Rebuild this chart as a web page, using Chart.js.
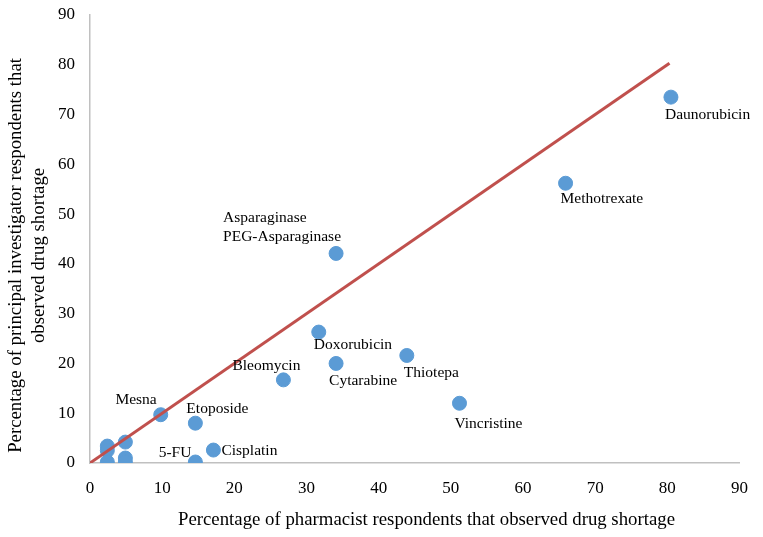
<!DOCTYPE html>
<html>
<head>
<meta charset="utf-8">
<script src="https://cdn.jsdelivr.net/npm/chart.js@4.4.1/dist/chart.umd.min.js"></script>
<style>
  html, body { margin: 0; padding: 0; background: #fff; }
  #wrap { width: 763px; height: 537px; }
</style>
</head>
<body>
<div id="wrap"><canvas id="graficoFalta"></canvas></div>
<script>
// drug names ('' = unlabeled point)
const drugNames = ['Daunorubicin', 'Methotrexate', 'Asparaginase\nPEG-Asparaginase', 'Doxorubicin',
    'Cytarabine', 'Thiotepa', 'Vincristine', 'Bleomycin', 'Mesna', 'Etoposide', 'Cisplatin', '5-FU',
    '', '', '', '', '', '']
// % of pharmacist respondents (x)
const pharmacistPct = [80.5, 65.9, 34.1, 31.7, 34.1, 43.9, 51.2, 26.8, 9.8, 14.6, 17.1, 14.6,
    2.4, 2.4, 2.4, 4.9, 4.9, 4.9]
// % of principal investigator respondents (y)
const investigatorPct = [73.5, 56.2, 42.1, 26.3, 20.0, 21.6, 12.0, 16.7, 9.7, 8.0, 2.6, 0.2,
    3.4, 2.5, 0.2, 4.2, 1.0, 0.2]
// reference line y = x
const lineX = [0, 80.3]
const lineY = [0, 80.3]
const axisTicks = [0, 10, 20, 30, 40, 50, 60, 70, 80, 90]

// where each label sits relative to its dot: [dx, dy, align]
const labelPlace = [[-6, 18, 'left'], [-5, 16, 'left'], [-113, -36, 'left'], [-5, 13, 'left'],
    [-7, 17, 'left'], [-3, 17, 'left'], [-5, 21, 'left'], [-51, -14, 'left'], [-4, -15, 'right'],
    [-9, -14, 'left'], [8, 1, 'left'], [-4, -9, 'right']]

const pontos = pharmacistPct.map((x, i) => ({ x: x, y: investigatorPct[i] }))
const linha = lineX.map((x, i) => ({ x: x, y: lineY[i] }))

const serif = "'Liberation Serif', 'Times New Roman', serif"

const rotulos = {
    id: 'rotulos',
    afterDatasetsDraw(chart) {
        const ctx = chart.ctx
        const meta = chart.getDatasetMeta(1)
        ctx.save()
        ctx.font = '15.5px ' + serif
        ctx.fillStyle = '#000'
        ctx.textBaseline = 'middle'
        drugNames.forEach((nome, i) => {
            if (!nome) return
            const el = meta.data[i]
            const [dx, dy, al] = labelPlace[i]
            ctx.textAlign = al
            nome.split('\n').forEach((linhaTxt, k) => {
                ctx.fillText(linhaTxt, el.x + dx, el.y + dy + k * 19)
            })
        })
        ctx.restore()
    }
}

const eixo = (titulo, titlePad, ajuste) => ({
    type: 'linear',
    min: 0,
    max: 90,
    afterBuildTicks: (s) => { s.ticks = axisTicks.map(v => ({ value: v })) },
    afterFit: ajuste,
    grid: { display: false, drawTicks: false },
    border: { display: true, color: '#c0c0c0', width: 1.5 },
    ticks: { color: '#000', font: { family: serif, size: 17 }, padding: 15 },
    title: { display: true, text: titulo, color: '#000', font: { family: serif, size: 18.8, lineHeight: 1.2 }, padding: titlePad }
})

// trailing/leading spaces nudge the titles off-centre like the original
new Chart(document.getElementById('graficoFalta'), {
    type: 'scatter',
    data: {
        datasets: [{
            type: 'line',
            data: linha,
            borderColor: '#c0504d',
            borderWidth: 3,
            pointRadius: 0,
            fill: false
        }, {
            data: pontos,
            backgroundColor: '#5b9bd5',
            borderColor: '#5b9bd5',
            pointRadius: 7,
            pointHoverRadius: 7
        }]
    },
    options: {
        responsive: true,
        maintainAspectRatio: false,
        animation: false,
        layout: { padding: { top: 0, right: 23, bottom: 0, left: 0 } },
        plugins: { legend: { display: false }, tooltip: { enabled: false } },
        scales: {
            x: eixo('     Percentage of pharmacist respondents that observed drug shortage', { top: 0, bottom: 6 },
                (s) => { s.height = 74 }),
            y: eixo(['Percentage of principal investigator respondents that       ', 'observed drug shortage       '], { top: 5, bottom: 0 },
                (s) => { s.width = 90; s.paddingTop = 15; s.paddingBottom = 0 })
        }
    },
    plugins: [rotulos]
})
</script>
</body>
</html>
